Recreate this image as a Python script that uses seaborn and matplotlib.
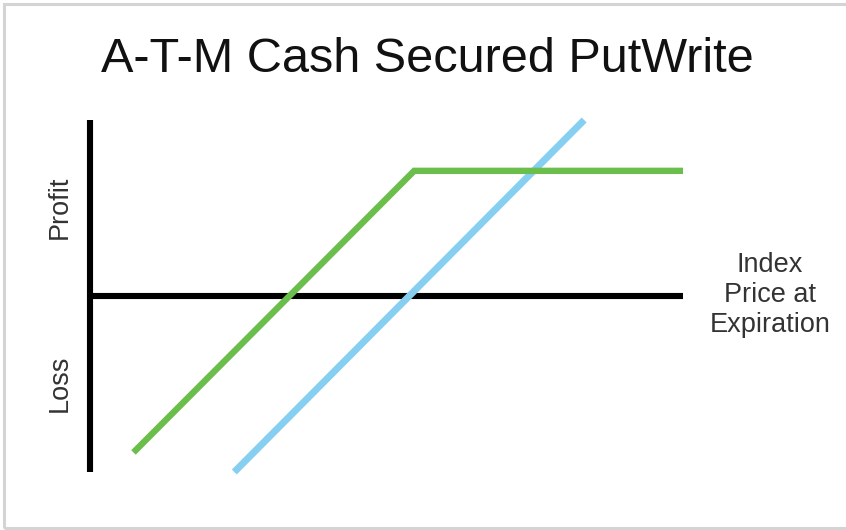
import pandas as pd
import matplotlib.pyplot as plt
import seaborn as sns
from matplotlib.patches import Rectangle

# Payoff data (x = index price at expiration, y = profit/loss)
putwrite_x = [2.2, 16.4, 30.0]
putwrite_y = [-8.0, 6.4, 6.4]
index_x = [7.3, 25.0]
index_y = [-9.0, 9.0]

# Axis lines
axis_x_range = [0.0, 30.0]
axis_y_range = [-9.0, 9.0]

title = "A-T-M Cash Secured PutWrite"
profit_label = "Profit"
loss_label = "Loss"
x_label = "Index\nPrice at\nExpiration"

sns.set_style("white")
plt.rcParams['font.family'] = ['Liberation Sans', 'DejaVu Sans']

W, H = 846, 530
fig = plt.figure(figsize=(W / 100, H / 100), dpi=100)

# light grey frame around the whole picture
fig.patches.append(Rectangle((4 / W, 2 / H), 1.2, 1 - 6 / H, transform=fig.transFigure,
                             fill=False, edgecolor='#d4d4d4', linewidth=2.2))

# axes placed so data (0..30, -9..9) maps onto the drawn region
ax = fig.add_axes([90 / W, 1 - 472 / H, 593 / W, 352 / H])
ax.set_xlim(axis_x_range)
ax.set_ylim(axis_y_range)
ax.axis('off')

# black zero axes
ax.plot([0, 0], axis_y_range, color='black', lw=4.4, solid_capstyle='butt', clip_on=False, zorder=3)
ax.plot(axis_x_range, [0, 0], color='black', lw=4.4, solid_capstyle='butt', clip_on=False, zorder=1)

df_put = pd.DataFrame({'x': putwrite_x, 'y': putwrite_y})
df_idx = pd.DataFrame({'x': index_x, 'y': index_y})
sns.lineplot(data=df_idx, x='x', y='y', color='#86cff0', lw=5.0, ax=ax, sort=False,
             solid_capstyle='butt', clip_on=False, zorder=2)
sns.lineplot(data=df_put, x='x', y='y', color='#6cbe4c', lw=4.6, ax=ax, sort=False,
             solid_capstyle='butt', solid_joinstyle='miter', clip_on=False, zorder=4)
ax.axis('off')

fig.text(427 / W, 1 - 60 / H, title, ha='center', va='center', fontsize=35, color='#111111')
fig.text(60 / W, 1 - 207 / H, profit_label, ha='center', va='center', rotation=90,
         fontsize=19.5, color='#333333')
fig.text(60 / W, 1 - 383 / H, loss_label, ha='center', va='center', rotation=90,
         fontsize=19.5, color='#333333')
fig.text(770 / W, 1 - 295 / H, x_label, ha='center', va='center', fontsize=19.5,
         color='#333333', linespacing=1.22)

fig.savefig('out.png', dpi=100)
